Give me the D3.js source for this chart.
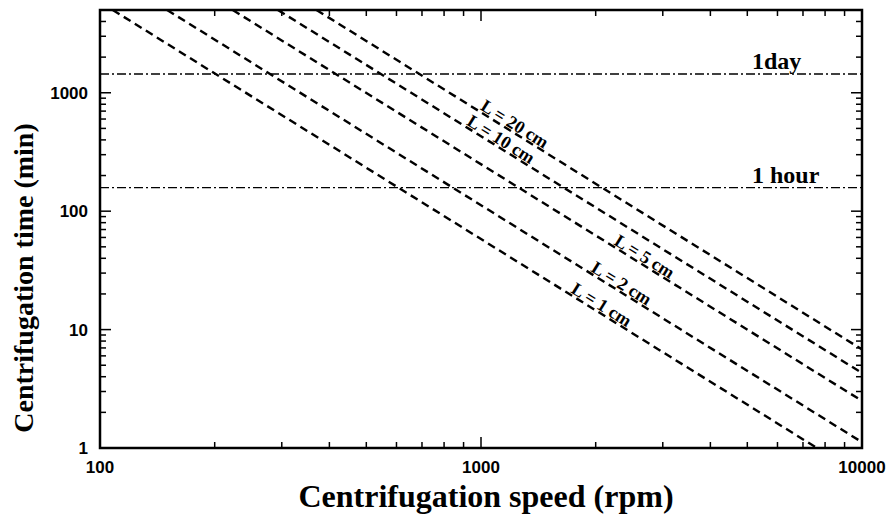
<!DOCTYPE html>
<html>
<head>
<meta charset="utf-8">
<script src="https://cdn.jsdelivr.net/npm/d3@7"></script>
<style>
  body { margin: 0; background: #fff; }
</style>
</head>
<body>
<svg id="main_canvas" width="890" height="515"></svg>
<script>
    // values
    const lengths = [1, 2, 5, 10, 20];                 // L in cm
    const speedAtTop = [108, 150, 223, 293, 370];      // rpm where each line leaves the top (5000 min)
    const timeAtMaxSpeed = [0.58, 1.12, 2.5, 4.3, 6.8]; // min at 10000 rpm
    const labelSpeed = [2020, 2280, 2620, 1100, 1195]; // rpm where the "L = .." label sits

    const refTimes = [1440, 158];
    const refLabels = ["1day", "1 hour"];

    const xTickLabels = [100, 1000, 10000];
    const yTickLabels = [1, 10, 100, 1000];

    const CANVAS_WIDTH = 890;
    const CANVAS_HEIGHT = 515;
    const margins = { left: 100, right: 28, top: 10, bottom: 67 };

    const TOP_TIME = 5000;
    const MAX_SPEED = 10000;

    const x = d3.scaleLog()
        .domain([100, MAX_SPEED])
        .range([margins.left, CANVAS_WIDTH - margins.right]);

    const y = d3.scaleLog()
        .domain([1, TOP_TIME])
        .range([CANVAS_HEIGHT - margins.bottom, margins.top]);

    const svg = d3.select("#main_canvas");
    const [x0, x1] = x.range();
    const [y0, y1] = y.range();

    svg.append("defs").append("clipPath")
        .attr("id", "plot_clip")
        .append("rect")
        .attr("x", x0).attr("y", y1)
        .attr("width", x1 - x0).attr("height", y0 - y1);

    const plotArea = svg.append("g").attr("clip-path", "url(#plot_clip)");

    // reference lines (1 day / 1 hour)
    plotArea.selectAll("line.ref")
        .data(refTimes)
        .join("line")
        .attr("class", "ref")
        .attr("x1", x0).attr("x2", x1)
        .attr("y1", d => y(d)).attr("y2", d => y(d))
        .attr("stroke", "#000")
        .attr("stroke-width", 1.4)
        .attr("stroke-dasharray", "9,3,2,3");

    svg.selectAll("text.ref")
        .data(refLabels)
        .join("text")
        .attr("class", "ref")
        .attr("x", 752)
        .attr("y", (d, i) => y(refTimes[i]) - 5)
        .style("font", "bold 24px 'Liberation Serif', serif")
        .text(d => d);

    // dashed lines, straight on log-log axes
    plotArea.selectAll("line.len")
        .data(lengths)
        .join("line")
        .attr("class", "len")
        .attr("x1", (d, i) => x(speedAtTop[i]))
        .attr("y1", y(TOP_TIME))
        .attr("x2", x(MAX_SPEED))
        .attr("y2", (d, i) => y(timeAtMaxSpeed[i]))
        .attr("stroke", "#000")
        .attr("stroke-width", 2.4)
        .attr("stroke-dasharray", "8,5");

    // labels along the lines
    const timeOnLine = (i, s) => {
        const k = Math.log(TOP_TIME / timeAtMaxSpeed[i]) / Math.log(MAX_SPEED / speedAtTop[i]);
        return TOP_TIME * Math.pow(speedAtTop[i] / s, k);
    };

    svg.selectAll("text.len")
        .data(lengths)
        .join("text")
        .attr("class", "len")
        .attr("transform", (d, i) => {
            const s = labelSpeed[i];
            const px = x(s), py = y(timeOnLine(i, s));
            const qx = x(s * 1.1), qy = y(timeOnLine(i, s * 1.1));
            const angle = Math.atan2(qy - py, qx - px) * 180 / Math.PI;
            return `translate(${px},${py}) rotate(${angle})`;
        })
        .attr("text-anchor", "middle")
        .attr("dy", -2)
        .style("font", "bold 18px 'Liberation Serif', serif")
        .text(d => `L = ${d} cm`);

    // ticks on all four sides, pointing inward
    const isMajor = v => Math.abs(Math.log10(v) - Math.round(Math.log10(v))) < 1e-9;
    const tickLen = v => isMajor(v) ? 11 : 6;

    const ticks = svg.append("g")
        .attr("stroke", "#000")
        .attr("stroke-width", 1.5);

    const xt = x.ticks();
    ticks.selectAll("line.xb").data(xt).join("line").attr("class", "xb")
        .attr("x1", d => x(d)).attr("x2", d => x(d))
        .attr("y1", y0).attr("y2", d => y0 - tickLen(d));
    ticks.selectAll("line.xt").data(xt).join("line").attr("class", "xt")
        .attr("x1", d => x(d)).attr("x2", d => x(d))
        .attr("y1", y1).attr("y2", d => y1 + tickLen(d));

    const yt = y.ticks();
    ticks.selectAll("line.yl").data(yt).join("line").attr("class", "yl")
        .attr("y1", d => y(d)).attr("y2", d => y(d))
        .attr("x1", x0).attr("x2", d => x0 + tickLen(d));
    ticks.selectAll("line.yr").data(yt).join("line").attr("class", "yr")
        .attr("y1", d => y(d)).attr("y2", d => y(d))
        .attr("x1", x1).attr("x2", d => x1 - tickLen(d));

    // frame
    svg.append("rect")
        .attr("x", x0).attr("y", y1)
        .attr("width", x1 - x0).attr("height", y0 - y1)
        .attr("fill", "none")
        .attr("stroke", "#000")
        .attr("stroke-width", 2.5);

    // tick labels
    svg.selectAll("text.xl")
        .data(xTickLabels)
        .join("text")
        .attr("class", "xl")
        .attr("x", d => x(d))
        .attr("y", y0 + 25)
        .attr("text-anchor", "middle")
        .style("font", "bold 17px 'Liberation Sans', Arial, sans-serif")
        .text(d => d);

    svg.selectAll("text.yl")
        .data(yTickLabels)
        .join("text")
        .attr("class", "yl")
        .attr("x", x0 - 12)
        .attr("y", d => y(d))
        .attr("dy", "0.35em")
        .attr("text-anchor", "end")
        .style("font", "bold 17px 'Liberation Sans', Arial, sans-serif")
        .text(d => d);

    // axis titles
    svg.append("text")
        .attr("x", 486)
        .attr("y", 507)
        .attr("text-anchor", "middle")
        .style("font", "bold 32px 'Liberation Serif', serif")
        .text("Centrifugation speed (rpm)");

    svg.append("text")
        .attr("transform", "translate(33,278) rotate(-90)")
        .attr("text-anchor", "middle")
        .style("font", "bold 28px 'Liberation Serif', serif")
        .text("Centrifugation time (min)");
</script>
</body>
</html>
